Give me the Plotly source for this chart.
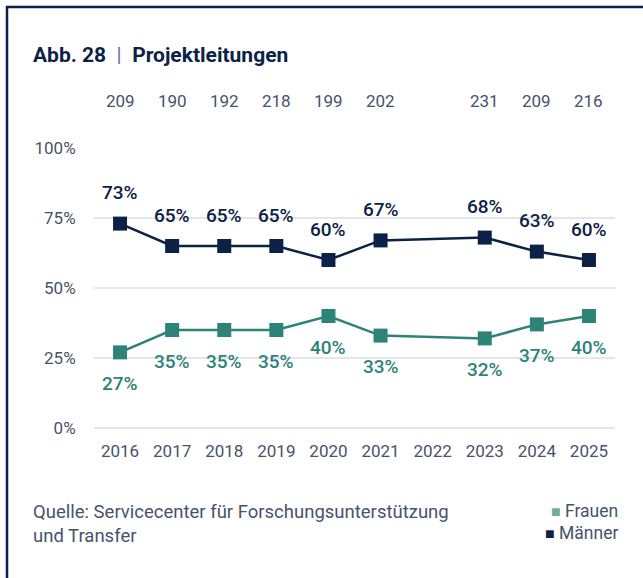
import plotly.graph_objects as go

years = ["2016", "2017", "2018", "2019", "2020", "2021", "2022", "2023", "2024", "2025"]
n_total = [209, 190, 192, 218, 199, 202, None, 231, 209, 216]
maenner = [73, 65, 65, 65, 60, 67, None, 68, 63, 60]
frauen = [27, 35, 35, 35, 40, 33, None, 32, 37, 40]
maenner_labels = ["73%", "65%", "65%", "65%", "60%", "67%", None, "68%", "63%", "60%"]
frauen_labels = ["27%", "35%", "35%", "35%", "40%", "33%", None, "32%", "37%", "40%"]
y_ticks = [0, 25, 50, 75, 100]
y_ticktext = ["0%", "25%", "50%", "75%", "100%"]

W, H = 643, 578
L, R, T, B = 94, 28, 148, 150
PW, PH = W - L - R, H - T - B

def px_x(x):
    return (x - L) / PW

def px_y(y):
    return (H - B - y) / PH

NAVY = "#0b2246"
TEAL = "#2d8378"
TEAL_LIGHT = "#74aa95"
GREY = "#46536b"
GRID = "#e4e6e8"
FONT = "Roboto, Liberation Sans, Arial, sans-serif"

fig = go.Figure()
fig.add_trace(go.Scatter(
    x=years, y=frauen, mode="lines+markers", connectgaps=True,
    line=dict(color=TEAL, width=2.5),
    marker=dict(symbol="square", size=14, color=TEAL),
    name="Frauen", showlegend=False, hoverinfo="skip"))
fig.add_trace(go.Scatter(
    x=years, y=maenner, mode="lines+markers", connectgaps=True,
    line=dict(color=NAVY, width=2.5),
    marker=dict(symbol="square", size=14, color=NAVY),
    name="Männer", showlegend=False, hoverinfo="skip"))

ann = []
for i, (v, lab) in enumerate(zip(maenner, maenner_labels)):
    if v is None:
        continue
    ann.append(dict(x=i, y=v, xref="x", yref="y", text=lab, showarrow=False,
                    yshift=31, font=dict(family=FONT, size=19, color=NAVY, weight=500)))
for i, (v, lab) in enumerate(zip(frauen, frauen_labels)):
    if v is None:
        continue
    ann.append(dict(x=i, y=v, xref="x", yref="y", text=lab, showarrow=False,
                    yshift=-31, font=dict(family=FONT, size=19, color=TEAL, weight=500)))
for i, n in enumerate(n_total):
    if n is None:
        continue
    ann.append(dict(x=i, y=px_y(101), xref="x", yref="paper", text=str(n), showarrow=False,
                    yanchor="middle", font=dict(family=FONT, size=17, color=GREY)))

ann.append(dict(x=px_x(31), y=px_y(55), xref="paper", yref="paper", xanchor="left", yanchor="middle",
                showarrow=False,
                text="<b>Abb. 28</b>  <span style='color:#6b7487'>|</span>  <b>Projektleitungen</b>",
                font=dict(family=FONT, size=21, color=NAVY)))
ann.append(dict(x=px_x(31), y=px_y(499), xref="paper", yref="paper", xanchor="left", yanchor="top",
                showarrow=False, align="left",
                text="Quelle: Servicecenter für Forschungsunterstützung<br>und Transfer",
                font=dict(family=FONT, size=18.5, color=GREY)))
ann.append(dict(x=px_x(620), y=px_y(511), xref="paper", yref="paper", xanchor="right", yanchor="middle",
                showarrow=False,
                text=f"<span style='color:{TEAL_LIGHT};font-size:16px'>■</span> Frauen",
                font=dict(family=FONT, size=17.5, color=GREY)))
ann.append(dict(x=px_x(620), y=px_y(533), xref="paper", yref="paper", xanchor="right", yanchor="middle",
                showarrow=False,
                text=f"<span style='color:{NAVY};font-size:16px'>■</span> Männer",
                font=dict(family=FONT, size=17.5, color=GREY)))

shapes = [
    dict(type="line", xref="paper", yref="paper", x0=px_x(6), x1=px_x(650), y0=px_y(7), y1=px_y(7),
         line=dict(color=NAVY, width=2.5)),
    dict(type="line", xref="paper", yref="paper", x0=px_x(7), x1=px_x(7), y0=px_y(6), y1=px_y(600),
         line=dict(color=NAVY, width=2.5)),
]

fig.update_layout(
    width=W, height=H,
    margin=dict(l=L, r=R, t=T, b=B),
    paper_bgcolor="white", plot_bgcolor="white",
    showlegend=False,
    annotations=ann, shapes=shapes,
    font=dict(family=FONT, size=17, color=GREY),
    xaxis=dict(type="category", categoryorder="array", categoryarray=years,
               range=[-0.5, 9.5], showgrid=False, zeroline=False, showline=False,
               ticks="outside", ticklen=8, tickcolor="rgba(0,0,0,0)",
               tickfont=dict(family=FONT, size=17, color=GREY)),
    yaxis=dict(range=[0, 100], tickvals=y_ticks, ticktext=y_ticktext,
               showgrid=True, gridcolor=GRID, gridwidth=2,
               zeroline=True, zerolinecolor=GRID, zerolinewidth=2, showline=False,
               ticks="outside", ticklen=14, tickcolor="rgba(0,0,0,0)",
               tickfont=dict(family=FONT, size=17, color=GREY)),
)

fig.write_html("out.html", config={"displayModeBar": False},
               post_script="document.body.style.margin='0';document.body.style.padding='0';")
